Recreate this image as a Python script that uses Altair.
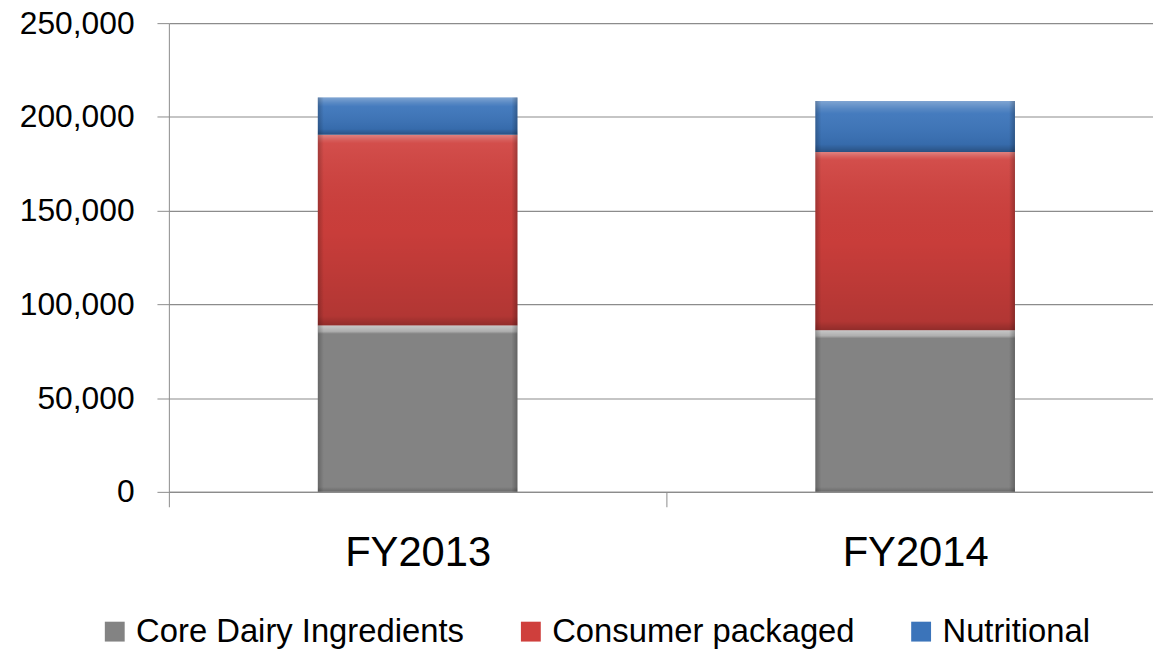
import altair as alt
import pandas as pd

years = ["FY2013", "FY2014"]
segments = ["Core Dairy Ingredients", "Consumer packaged", "Nutritional"]
core = [88700, 86200]
consumer = [101800, 95100]
nutritional = [19900, 27200]
colors = ["#838383", "#CF3F3C", "#3B74BA"]

rows = []
for i, y in enumerate(years):
    for j, (s, v) in enumerate(zip(segments, [core[i], consumer[i], nutritional[i]])):
        rows.append({"year": y, "segment": s, "value": v, "order": j})
df = pd.DataFrame(rows)

FONT = "Liberation Sans"
BAR = 201

xenc = alt.X("year:N", sort=years, title=None,
             scale=alt.Scale(range=[0, 1002], paddingInner=0, paddingOuter=0),
             axis=alt.Axis(labelAngle=0, labelFontSize=42, labelFont=FONT, labelColor="#000000",
                           tickBand="extent", tickSize=15, tickColor="#8c8c8c",
                           domainColor="#8c8c8c", domainWidth=1.2, labelPadding=26, grid=False))
yenc = alt.Y("v1:Q", title=None,
             scale=alt.Scale(domain=[0, 250000], nice=False),
             axis=alt.Axis(values=[0, 50000, 100000, 150000, 200000, 250000], format=",d",
                           labelFontSize=32, labelFont=FONT, labelColor="#000000",
                           tickSize=12, tickColor="#8c8c8c", labelPadding=23,
                           domainColor="#8c8c8c", gridColor="#8c8c8c", gridWidth=1.2))

base = alt.Chart(df).transform_stack(
    stack="value", groupby=["year"], sort=[alt.SortField("order")], as_=["v0", "v1"]
)

bars = base.mark_bar(size=BAR).encode(
    x=xenc, y=yenc, y2="v0:Q",
    color=alt.Color("segment:N", sort=segments,
                    scale=alt.Scale(domain=segments, range=colors),
                    legend=alt.Legend(title=None, orient="none", direction="horizontal",
                                      legendX=-71, legendY=596,
                                      symbolType="square", symbolSize=400,
                                      symbolStrokeWidth=0, labelFontSize=33, labelFont=FONT,
                                      labelColor="#000000", columnPadding=50, labelOffset=5,
                                      labelLimit=500)),
)

def vgrad(stops):
    return alt.Gradient(gradient="linear", x1=0, x2=0, y1=0, y2=1,
                        stops=[alt.GradientStop(offset=o, color=c) for o, c in stops])

shade = {
    "Core Dairy Ingredients": [(0, "rgba(255,255,255,0.55)"), (0.035, "rgba(255,255,255,0.35)"),
                               (0.05, "rgba(255,255,255,0)"), (0.97, "rgba(0,0,0,0)"),
                               (1, "rgba(0,0,0,0.2)")],
    "Consumer packaged": [(0, "rgba(255,255,255,0.35)"), (0.03, "rgba(255,255,255,0.15)"),
                          (0.045, "rgba(255,255,255,0.08)"), (0.5, "rgba(0,0,0,0.03)"),
                          (0.95, "rgba(0,0,0,0.14)"), (1, "rgba(0,0,0,0.3)")],
    "Nutritional": [(0, "rgba(255,255,255,0.35)"), (0.15, "rgba(255,255,255,0.15)"),
                    (0.25, "rgba(255,255,255,0.05)"), (0.85, "rgba(0,0,0,0.08)"),
                    (1, "rgba(0,0,0,0.3)")],
}

layers = [bars]
for seg in segments:
    layers.append(
        base.transform_filter(alt.datum.segment == seg)
        .mark_bar(size=BAR, fill=vgrad(shade[seg]))
        .encode(x=xenc, y=yenc, y2="v0:Q")
    )

edge = alt.Gradient(gradient="linear", x1=0, x2=1, y1=0, y2=0,
                    stops=[alt.GradientStop(offset=0, color="rgba(0,0,0,0.22)"),
                           alt.GradientStop(offset=0.03, color="rgba(0,0,0,0)"),
                           alt.GradientStop(offset=0.97, color="rgba(0,0,0,0)"),
                           alt.GradientStop(offset=1, color="rgba(0,0,0,0.25)")])
layers.append(base.mark_bar(size=BAR, fill=edge).encode(x=xenc, y=yenc, y2="v0:Q"))

chart = alt.layer(*layers).properties(
    width=991, height=472,
    padding={"left": 162, "top": 13, "right": 0, "bottom": 156},
    autosize=alt.AutoSizeParams(type="none"),
).configure_view(stroke=None)

chart.save("out.html", embed_options={"renderer": "svg", "actions": False})
